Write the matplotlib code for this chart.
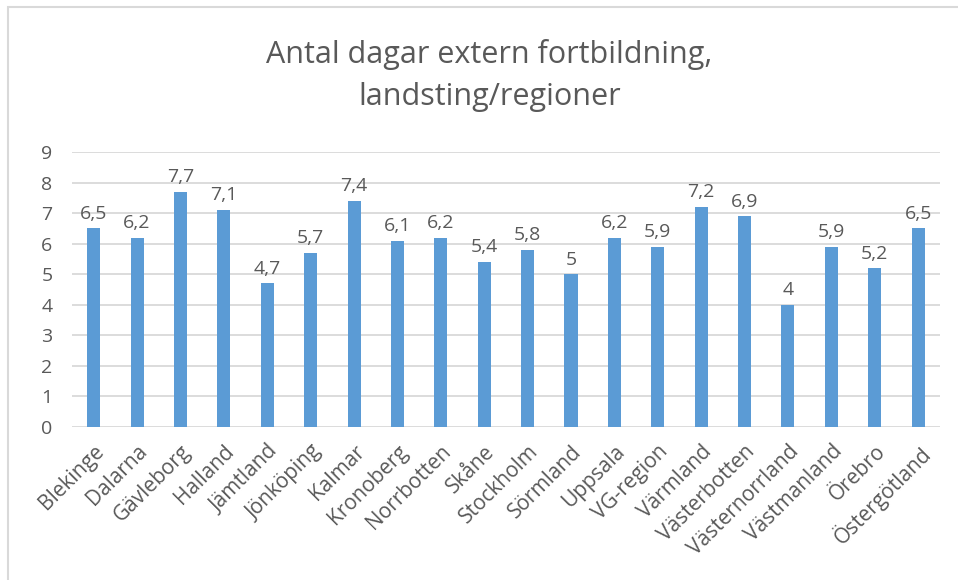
import matplotlib.pyplot as plt
from matplotlib.patches import Rectangle

regions = ["Blekinge", "Dalarna", "Gävleborg", "Halland", "Jämtland", "Jönköping",
           "Kalmar", "Kronoberg", "Norrbotten", "Skåne", "Stockholm", "Sörmland",
           "Uppsala", "VG-region", "Värmland", "Västerbotten", "Västernorrland",
           "Västmanland", "Örebro", "Östergötland"]
days = [6.5, 6.2, 7.7, 7.1, 4.7, 5.7, 7.4, 6.1, 6.2, 5.4, 5.8, 5.0,
        6.2, 5.9, 7.2, 6.9, 4.0, 5.9, 5.2, 6.5]
yticks = list(range(0, 10))

plt.rcParams['font.family'] = ['Open Sans', 'DejaVu Sans']
grey = "#595959"

fig = plt.figure(figsize=(9.58, 5.8), dpi=100)
ax = fig.add_axes([0.0752, 0.2638, 0.9058, 0.4742])

x = list(range(len(regions)))
ax.bar(x, days, width=0.3, color="#5B9BD5", zorder=3)

# value labels with comma decimals
for xi, v in zip(x, days):
    label = f"{v:g}".replace(".", ",")
    ax.annotate(label, (xi, v), xytext=(0, 4), textcoords="offset points",
                ha="center", va="bottom", fontsize=14, color=grey)

ax.set_xlim(-0.5, len(regions) - 0.5)
ax.set_ylim(0, 9)
ax.set_yticks(yticks)
ax.set_yticklabels([str(t) for t in yticks], fontsize=14, color=grey)
ax.yaxis.grid(True, color="#d9d9d9", linewidth=1.3, zorder=0)
ax.set_xticks(x)
ax.set_xticklabels(regions, rotation=45, ha="right", rotation_mode="anchor",
                   fontsize=15, color=grey)
ax.tick_params(axis="y", length=0, pad=14)
ax.tick_params(axis="x", length=0, pad=10)
for s in ax.spines.values():
    s.set_visible(False)

fig.text(0.511, 0.891, "Antal dagar extern fortbildning,", ha="center",
         va="baseline", fontsize=22, color=grey)
fig.text(0.511, 0.819, "landsting/regioner", ha="center",
         va="baseline", fontsize=22, color=grey)

# chart frame, cut off at the right and bottom edges
fig.patches.append(Rectangle((8 / 958, -0.05), 1.0, 1.05 - 7 / 580,
                             transform=fig.transFigure, fill=False,
                             edgecolor="#d9d9d9", linewidth=1.5))

fig.savefig("out.png", dpi=100)
